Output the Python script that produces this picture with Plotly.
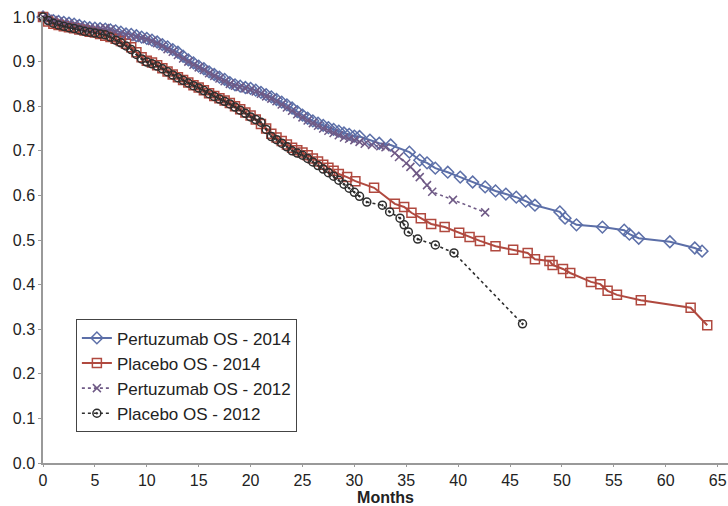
import plotly.graph_objects as go

# ---- data ----
pert14_m = [0, 0.5, 1, 1.5, 2, 2.5, 3, 3.5, 4, 4.5, 5, 5.5, 6, 6.5, 7, 7.5, 8, 8.5, 9, 9.5,
            10, 10.5, 11, 11.5, 12, 12.5, 13, 13.5, 14, 14.5, 15, 15.5, 16, 16.5, 17, 17.5,
            18, 18.5, 19, 19.5, 20, 20.5, 21, 21.5, 22, 22.5, 23, 23.5, 24, 24.5, 25, 25.5,
            26, 26.5, 27, 27.5, 28, 28.5, 29, 29.5, 30, 30.5, 31.5, 32.4, 33.5, 35.3, 36.3,
            37.0, 37.8, 39.0, 40.2, 41.4, 42.6, 43.6, 44.6, 45.6, 46.5, 47.4, 49.8, 50.3,
            51.4, 53.9, 56.0, 56.5, 57.4, 60.4, 62.8, 63.5]
pert14_s = [1.0, 0.995, 0.992, 0.990, 0.988, 0.986, 0.984, 0.981, 0.978, 0.976, 0.975, 0.974,
            0.973, 0.971, 0.969, 0.966, 0.962, 0.961, 0.958, 0.955, 0.952, 0.948, 0.944, 0.938,
            0.933, 0.927, 0.921, 0.912, 0.904, 0.897, 0.890, 0.884, 0.877, 0.871, 0.865, 0.860,
            0.853, 0.848, 0.845, 0.842, 0.840, 0.836, 0.831, 0.826, 0.821, 0.815, 0.809, 0.803,
            0.796, 0.788, 0.780, 0.773, 0.767, 0.762, 0.757, 0.752, 0.748, 0.744, 0.740, 0.737,
            0.733, 0.732, 0.724, 0.717, 0.713, 0.697, 0.679, 0.673, 0.661, 0.652, 0.641, 0.630,
            0.619, 0.610, 0.603, 0.596, 0.587, 0.578, 0.563, 0.549, 0.534, 0.529, 0.522, 0.513,
            0.504, 0.496, 0.482, 0.475]

plac14_m = [0, 0.5, 1, 1.5, 2, 2.5, 3, 3.5, 4, 4.5, 5, 5.5, 6, 6.5, 7, 7.5, 8, 8.5, 9, 9.5,
            10, 10.5, 11, 11.5, 12, 12.5, 13, 13.5, 14, 14.5, 15, 15.5, 16, 16.5, 17, 17.5,
            18, 18.5, 19, 19.5, 20, 20.5, 21, 21.5, 22, 22.5, 23, 23.5, 24, 24.5, 25, 25.5,
            26, 26.5, 27, 27.5, 28, 28.5, 29.3, 30.1, 31.9, 33.9, 34.8, 35.5, 36.4, 37.4,
            38.7, 40.1, 41.1, 42.1, 43.6, 45.3, 46.7, 47.4, 48.8, 49.1, 50.1, 50.8, 52.8,
            53.7, 54.4, 55.3, 57.6, 62.4, 64.0]
plac14_s = [1.0, 0.990, 0.985, 0.982, 0.979, 0.977, 0.975, 0.972, 0.970, 0.967, 0.965, 0.962,
            0.958, 0.955, 0.951, 0.946, 0.940, 0.932, 0.921, 0.910, 0.902, 0.898, 0.892, 0.885,
            0.878, 0.871, 0.865, 0.859, 0.853, 0.847, 0.842, 0.836, 0.829, 0.823, 0.818, 0.813,
            0.807, 0.800, 0.793, 0.786, 0.779, 0.770, 0.760, 0.750, 0.738, 0.730, 0.722, 0.714,
            0.707, 0.701, 0.696, 0.690, 0.683, 0.676, 0.669, 0.662, 0.655, 0.648, 0.641, 0.632,
            0.617, 0.581, 0.574, 0.561, 0.549, 0.536, 0.529, 0.516, 0.507, 0.498, 0.486, 0.478,
            0.471, 0.457, 0.453, 0.444, 0.435, 0.426, 0.406, 0.401, 0.386, 0.377, 0.365, 0.348,
            0.309]

pert12_m = [0, 0.5, 1, 1.5, 2, 2.5, 3, 3.5, 4, 4.5, 5, 5.5, 6, 6.5, 7, 7.5, 8, 8.5, 9, 9.5,
            10, 10.5, 11, 11.5, 12, 12.5, 13, 13.5, 14, 14.5, 15, 15.5, 16, 16.5, 17, 17.5,
            18, 18.5, 19, 19.5, 20, 20.5, 21, 21.5, 22, 22.5, 23, 23.5, 24, 24.5, 25, 25.5,
            26, 26.5, 27, 27.5, 28, 28.5, 29, 29.5, 30, 30.5, 31, 31.7, 32.5, 33.0, 33.9,
            34.3, 35.0, 35.4, 36.0, 36.3, 37.0, 37.5, 39.5, 42.6]
pert12_s = [1.0, 0.996, 0.993, 0.990, 0.987, 0.985, 0.983, 0.980, 0.977, 0.975, 0.973, 0.974,
            0.975, 0.972, 0.967, 0.963, 0.960, 0.958, 0.955, 0.953, 0.950, 0.946, 0.941, 0.935,
            0.928, 0.922, 0.915, 0.907, 0.900, 0.893, 0.887, 0.881, 0.874, 0.868, 0.862, 0.856,
            0.850, 0.846, 0.843, 0.840, 0.837, 0.833, 0.828, 0.822, 0.817, 0.811, 0.804, 0.797,
            0.790, 0.782, 0.775, 0.768, 0.762, 0.756, 0.750, 0.745, 0.740, 0.735, 0.730, 0.727,
            0.724, 0.720, 0.716, 0.713, 0.710, 0.708, 0.695, 0.686, 0.672, 0.664, 0.650, 0.641,
            0.623, 0.608, 0.590, 0.562]

plac12_m = [0, 0.5, 1, 1.5, 2, 2.5, 3, 3.5, 4, 4.5, 5, 5.5, 6, 6.5, 7, 7.5, 8, 8.5, 9, 9.5,
            10, 10.5, 11, 11.5, 12, 12.5, 13, 13.5, 14, 14.5, 15, 15.5, 16, 16.5, 17, 17.5,
            18, 18.5, 19, 19.5, 20, 20.5, 21, 21.5, 22, 22.5, 23, 23.5, 24, 24.5, 25, 25.5,
            26, 26.5, 27, 27.5, 28, 28.5, 29, 29.5, 30, 30.5, 31.2, 32.7, 33.4, 34.4, 34.8,
            35.2, 36.1, 37.8, 39.6, 46.2]
plac12_s = [1.0, 0.992, 0.986, 0.982, 0.979, 0.976, 0.974, 0.971, 0.968, 0.966, 0.964, 0.962,
            0.960, 0.955, 0.948, 0.942, 0.935, 0.927, 0.916, 0.906, 0.899, 0.895, 0.890, 0.884,
            0.877, 0.870, 0.864, 0.858, 0.852, 0.846, 0.841, 0.835, 0.828, 0.822, 0.816, 0.811,
            0.805, 0.798, 0.791, 0.784, 0.776, 0.770, 0.764, 0.748, 0.732, 0.725, 0.717, 0.709,
            0.700, 0.695, 0.690, 0.683, 0.675, 0.667, 0.659, 0.651, 0.643, 0.634, 0.625, 0.616,
            0.607, 0.598, 0.585, 0.578, 0.563, 0.549, 0.534, 0.518, 0.502, 0.489, 0.471, 0.312]

x_ticks = list(range(0, 70, 5))
y_ticks = [0.0, 0.1, 0.2, 0.3, 0.4, 0.5, 0.6, 0.7, 0.8, 0.9, 1.0]
y_tick_text = ["0.0", "0.1", "0.2", "0.3", "0.4", "0.5", "0.6", "0.7", "0.8", "0.9", "1.0"]

fig = go.Figure()
fig.add_trace(go.Scatter(
    x=pert14_m, y=pert14_s, name="Pertuzumab OS - 2014", mode="lines+markers",
    legendgroup="a",
    line=dict(color="#5c6fa8", width=2),
    marker=dict(symbol="diamond-open", size=9, color="#5c6fa8", line=dict(width=1.5)),
    cliponaxis=False))
fig.add_trace(go.Scatter(
    x=plac14_m, y=plac14_s, name="Placebo OS - 2014", mode="lines+markers",
    legendgroup="b",
    line=dict(color="#b0493f", width=2),
    marker=dict(symbol="square-open", size=9, color="#b0493f", line=dict(width=1.5)),
    cliponaxis=False))
fig.add_trace(go.Scatter(
    x=pert12_m, y=pert12_s, name="Pertuzumab OS - 2012", mode="lines+markers",
    legendgroup="c",
    line=dict(color="#6f5a86", width=1.6, dash="dot"),
    marker=dict(symbol="x-thin-open", size=8, color="#6f5a86", line=dict(width=1.5, color="#6f5a86")),
    cliponaxis=False))
fig.add_trace(go.Scatter(
    x=plac12_m, y=plac12_s, name="Placebo OS - 2012", mode="lines+markers",
    legendgroup="d",
    line=dict(color="#2e2e2e", width=1.6, dash="dot"),
    marker=dict(symbol="circle-open-dot", size=8, color="#2e2e2e", line=dict(width=1.5)),
    cliponaxis=False))

fig.update_layout(
    width=728, height=506,
    margin=dict(l=43, r=0, t=17, b=43),
    paper_bgcolor="white", plot_bgcolor="white",
    font=dict(family="Liberation Sans, Arial, sans-serif", size=16, color="#222"),
    showlegend=True,
    legend=dict(x=0.048, y=0.322, xanchor="left", yanchor="top",
                bordercolor="#444", borderwidth=1, bgcolor="white",
                font=dict(size=17, color="#222"), tracegroupgap=0,
                itemwidth=30),
    xaxis=dict(range=[0, 66], tickvals=x_ticks, showgrid=False, zeroline=False,
               automargin=False,
               showline=True, linecolor="#999", linewidth=1.5,
               ticks="outside", ticklen=2, tickcolor="#999",
               title=dict(text="<b>Months</b>", font=dict(size=16), standoff=0)),
    yaxis=dict(range=[0, 1.0], tickvals=y_ticks, ticktext=y_tick_text, showgrid=False,
               automargin=False,
               zeroline=False, showline=True, linecolor="#999", linewidth=1.5,
               ticks="outside", ticklen=3, tickcolor="#999"),
)

fig.write_html("out.html", config={"displayModeBar": False},
               post_script="document.body.style.margin='0';")
